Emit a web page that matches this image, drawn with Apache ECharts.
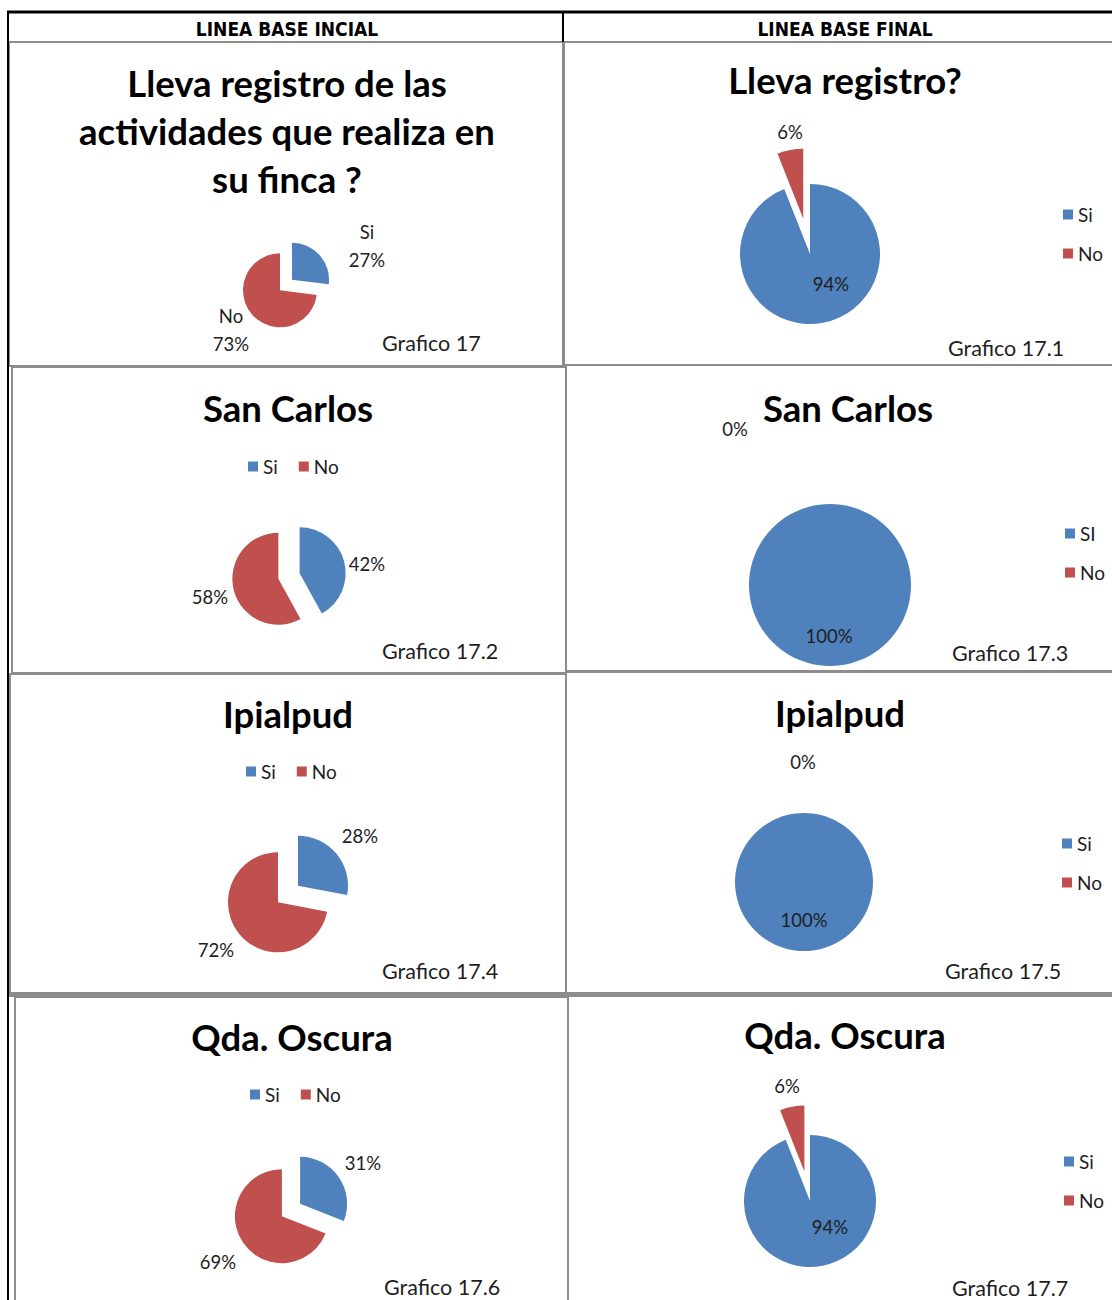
<!DOCTYPE html>
<html>
<head>
<meta charset="utf-8">
<title>Lleva registro de las actividades</title>
<script src="https://cdn.jsdelivr.net/npm/echarts@6/dist/echarts.min.js"></script>
<style>
  html, body { margin: 0; padding: 0; background: #ffffff; }
  #chart { width: 1112px; height: 1300px; }
</style>
</head>
<body>
<div id="chart"></div>
<script>
// ---- data -------------------------------------------------------------
const seriesNames = ['Si', 'No'];
const seriesNamesSanCarlosFinal = ['SI', 'No'];
const columnHeaders = ['LINEA BASE INCIAL', 'LINEA BASE FINAL'];
const chartTitles = [
  'Lleva registro de las\nactividades que realiza en\nsu finca ?',
  'Lleva registro?',
  'San Carlos', 'San Carlos',
  'Ipialpud', 'Ipialpud',
  'Qda. Oscura', 'Qda. Oscura'
];
const chartCaptions = [
  'Grafico 17', 'Grafico 17.1', 'Grafico 17.2', 'Grafico 17.3',
  'Grafico 17.4', 'Grafico 17.5', 'Grafico 17.6', 'Grafico 17.7'
];
// percentages [Si, No]
const totalInicial = [27, 73];
const totalFinal = [94, 6];
const sanCarlosInicial = [42, 58];
const sanCarlosFinal = [100, 0];
const ipialpudInicial = [28, 72];
const ipialpudFinal = [100, 0];
const qdaOscuraInicial = [31, 69];
const qdaOscuraFinal = [94, 6];

// ---- styling ----------------------------------------------------------
const palette = ['#4F81BD', '#C0504D'];
const FONT = 'Lato, Carlito, Calibri, "Open Sans", sans-serif';
const TEXT_COLOR = '#1e1e1e';
const GRID_GRAY = '#8c8c8c';

// one entry per panel: pie geometry, exploded slices, label anchors (relative
// to the pie centre), title / caption anchors and legend placement
const panels = [
  { values: totalInicial, names: seriesNames, center: [286, 285], radius: 37,
    explode: [true, true], offset: 8, labelFmt: '{b}\n{c}%',
    labelAt: [[81, -39], [-55, 45]],
    title: [287, 131], caption: [382, 343], legend: null },
  { values: totalFinal, names: seriesNames, center: [810, 254], radius: 70,
    explode: [false, true], offset: 36, labelFmt: '{c}%',
    labelAt: [[21, 30], [-20, -122]],
    title: [845, 80], caption: [948, 348],
    legend: { orient: 'vertical', left: 1063, top: 205 } },
  { values: sanCarlosInicial, names: seriesNames, center: [289, 576], radius: 46,
    explode: [true, true], offset: 11, labelFmt: '{c}%',
    labelAt: [[78, -12], [-79, 21]],
    title: [288, 408], caption: [382, 651],
    legend: { orient: 'horizontal', left: 248, top: 457 } },
  { values: sanCarlosFinal, names: seriesNamesSanCarlosFinal, center: [830, 585], radius: 81,
    explode: [false, false], offset: 0, labelFmt: '{c}%',
    labelAt: [[-1, 51], [-95, -156]],
    title: [848, 408], caption: [952, 653],
    legend: { orient: 'vertical', left: 1065, top: 524 } },
  { values: ipialpudInicial, names: seriesNames, center: [288, 894], radius: 50,
    explode: [true, true], offset: 13, labelFmt: '{c}%',
    labelAt: [[72, -58], [-72, 56]],
    title: [288, 714], caption: [382, 971],
    legend: { orient: 'horizontal', left: 246, top: 762 } },
  { values: ipialpudFinal, names: seriesNames, center: [804, 882], radius: 69,
    explode: [false, false], offset: 0, labelFmt: '{c}%',
    labelAt: [[0, 38], [-1, -120]],
    title: [840, 713], caption: [945, 971],
    legend: { orient: 'vertical', left: 1062, top: 834 } },
  { values: qdaOscuraInicial, names: seriesNames, center: [291, 1210], radius: 47,
    explode: [true, true], offset: 11, labelFmt: '{c}%',
    labelAt: [[72, -47], [-73, 52]],
    title: [292, 1037], caption: [384, 1287],
    legend: { orient: 'horizontal', left: 250, top: 1085 } },
  { values: qdaOscuraFinal, names: seriesNames, center: [810, 1201], radius: 66,
    explode: [false, true], offset: 30, labelFmt: '{c}%',
    labelAt: [[20, 26], [-23, -115]],
    title: [845, 1035], caption: [952, 1288],
    legend: { orient: 'vertical', left: 1064, top: 1152 } }
];

// table frame: black outer rule and header, grey cell boxes
const frameBoxes = [
  [9, 42, 554, 324], [564, 42, 560, 323],
  [12, 367, 554, 306], [566, 365, 560, 306],
  [10, 674, 556, 319], [566, 672, 560, 321],
  [15, 997, 553, 320], [568, 996, 560, 320]
];

// ---- option -------------------------------------------------------------
function pieData(p) {
  return p.values.map(function (v, i) {
    return { name: p.names[i], value: v, selected: p.explode[i] };
  });
}

// visible slices (exploded slices use the pie's selection offset)
const sliceSeries = panels.map(function (p) {
  return {
    type: 'pie',
    center: p.center,
    radius: p.radius,
    startAngle: 90,
    clockwise: true,
    selectedMode: 'multiple',
    selectedOffset: p.offset,
    silent: true,
    color: palette,
    itemStyle: { borderWidth: 0 },
    emphasis: { disabled: true },
    label: { show: false },
    labelLine: { show: false },
    data: pieData(p)
  };
});

// percentage labels of the same pies, laid out around each pie centre
const labelSeries = panels.map(function (p) {
  return {
    type: 'pie',
    center: p.center,
    radius: p.radius,
    startAngle: 90,
    clockwise: true,
    avoidLabelOverlap: false,
    silent: true,
    itemStyle: { color: 'rgba(0,0,0,0)', borderWidth: 0 },
    emphasis: { disabled: true },
    label: {
      show: true,
      formatter: p.labelFmt,
      fontFamily: FONT,
      fontSize: 18.5,
      lineHeight: 28,
      color: TEXT_COLOR
    },
    labelLine: { show: false },
    labelLayout: function (params) {
      const off = p.labelAt[params.dataIndex];
      return {
        x: p.center[0] + off[0],
        y: p.center[1] + off[1],
        align: 'center',
        verticalAlign: 'middle'
      };
    },
    data: p.values.map(function (v, i) { return { name: p.names[i], value: v }; })
  };
});

const legends = panels.filter(function (p) { return p.legend; }).map(function (p) {
  const vertical = p.legend.orient === 'vertical';
  return {
    orient: p.legend.orient,
    left: p.legend.left,
    top: p.legend.top,
    padding: 0,
    data: p.names.slice(),
    icon: 'rect',
    itemWidth: 10,
    itemHeight: 10,
    itemGap: vertical ? 20 : 21,
    selectedMode: false,
    textStyle: { fontFamily: FONT, fontSize: 19, color: TEXT_COLOR }
  };
});

const graphics = [];
frameBoxes.forEach(function (b) {
  graphics.push({
    type: 'rect', silent: true,
    shape: { x: b[0], y: b[1], width: b[2], height: b[3] },
    style: { fill: 'none', stroke: GRID_GRAY, lineWidth: 2 }
  });
});
// heavier grey rule above the last row
graphics.push({ type: 'line', silent: true, shape: { x1: 9, y1: 995, x2: 1112, y2: 995 },
  style: { stroke: GRID_GRAY, lineWidth: 4 } });
// black header rules
graphics.push({ type: 'line', silent: true, shape: { x1: 7, y1: 12, x2: 1112, y2: 12 },
  style: { stroke: '#000', lineWidth: 3 } });
graphics.push({ type: 'line', silent: true, shape: { x1: 8, y1: 11, x2: 8, y2: 1300 },
  style: { stroke: '#000', lineWidth: 2 } });
graphics.push({ type: 'line', silent: true, shape: { x1: 563, y1: 12, x2: 563, y2: 42 },
  style: { stroke: '#000', lineWidth: 2 } });
// column headers
[[287, 29], [845, 29]].forEach(function (pos, i) {
  graphics.push({
    type: 'text', silent: true, x: pos[0], y: pos[1],
    style: {
      text: columnHeaders[i], align: 'center', verticalAlign: 'middle',
      fontFamily: '"Liberation Sans Narrow", "DejaVu Sans Condensed", sans-serif',
      fontWeight: 'bold', fontSize: 19, fill: '#000'
    }
  });
});
// panel titles and captions
panels.forEach(function (p, i) {
  graphics.push({
    type: 'text', silent: true, x: p.title[0], y: p.title[1],
    style: {
      text: chartTitles[i], align: 'center', verticalAlign: 'middle',
      fontFamily: FONT, fontWeight: 'bold', fontSize: 36.5, lineHeight: 48, fill: '#000'
    }
  });
  graphics.push({
    type: 'text', silent: true, x: p.caption[0], y: p.caption[1],
    style: {
      text: chartCaptions[i], align: 'left', verticalAlign: 'middle',
      fontFamily: FONT, fontSize: 21.5, fill: TEXT_COLOR
    }
  });
});

const chart = echarts.init(document.getElementById('chart'), null, { renderer: 'svg' });
chart.setOption({
  animation: false,
  backgroundColor: '#ffffff',
  legend: legends,
  series: sliceSeries.concat(labelSeries),
  graphic: { elements: graphics }
});
</script>
</body>
</html>
